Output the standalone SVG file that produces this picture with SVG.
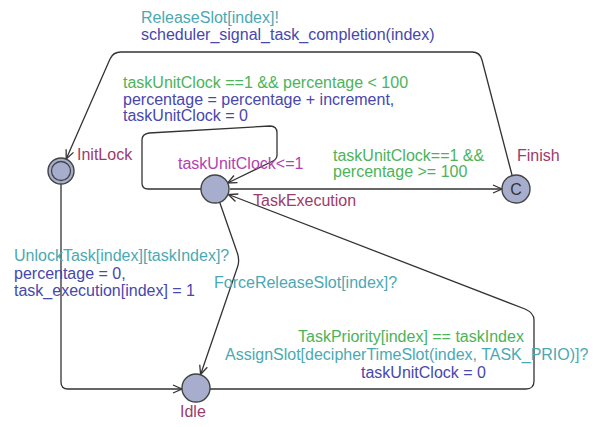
<svg xmlns="http://www.w3.org/2000/svg" width="598" height="427" viewBox="0 0 598 427">
<style>
text{font-family:"Liberation Sans",Arial,sans-serif;font-size:16px}
.sync{fill:#4aa9b3}
.asg{fill:#4747ad}
.grd{fill:#4cb35a}
.loc{fill:#9c3b6b}
.inv{fill:#b043b0}
.node{fill:#a7aecd;stroke:#444;stroke-width:1.4}
.edge{fill:none;stroke:#333;stroke-width:1.3;marker-end:url(#arr)}
</style>
<defs>
<marker id="arr" markerUnits="userSpaceOnUse" markerWidth="12" markerHeight="12" refX="10" refY="5" orient="auto" overflow="visible">
<path d="M1,1 L10,5 L1,9" fill="none" stroke="#333" stroke-width="1.3"/>
</marker>
</defs>
<rect width="598" height="427" fill="#fff"/>
<g id="connectors">
<path class="edge" d="M512,175 L482,60 Q480,52 472,52 L121,52 Q113,52 110,59 L66.2,159"/>
<path class="edge" d="M201,189 L148,189 Q142,189 142,183 L142,140 Q142,134 149,133 L270,126 Q277,126 277,133 L277,155 Q277,159 273,161 L227.6,183"/>
<path class="edge" d="M230,189 L502,189"/>
<path class="edge" d="M61,184 L61,382 Q61,389 68,389 L182,389"/>
<path class="edge" d="M219.6,202 L237,252 Q240,260 237.5,267 L200.6,374.5"/>
<path class="edge" d="M210,389 L526,389 Q534,389 534,381 L534,320 Q534,313 525,309 L228.5,194.5"/>
</g>
<g id="labels">
<text class="sync" x="141" y="23">ReleaseSlot[index]!</text>
<text class="asg" x="141" y="40">scheduler_signal_task_completion(index)</text>
<text class="grd" x="123" y="88">taskUnitClock ==1 &amp;&amp; percentage &lt; 100</text>
<text class="asg" x="123" y="105">percentage = percentage + increment,</text>
<text class="asg" x="123" y="121">taskUnitClock = 0</text>
<text class="grd" x="333" y="161">taskUnitClock==1 &amp;&amp;</text>
<text class="grd" x="333" y="177">percentage &gt;= 100</text>
<text class="sync" x="14" y="261">UnlockTask[index][taskIndex]?</text>
<text class="asg" x="14" y="279">percentage = 0,</text>
<text class="asg" x="14" y="296">task_execution[index] = 1</text>
<text class="sync" x="214" y="288">ForceReleaseSlot[index]?</text>
<text class="grd" x="298" y="342">TaskPriority[index] == taskIndex</text>
<text class="sync" x="225" y="360">AssignSlot[decipherTimeSlot(index, TASK_PRIO)]?</text>
<text class="asg" x="361" y="378">taskUnitClock = 0</text>
</g>
<g id="InitLock">
<circle class="node" cx="61" cy="171" r="13"/>
<circle cx="61" cy="171" r="9.5" fill="none" stroke="#444" stroke-width="1.3"/>
<text class="loc" x="77" y="160">InitLock</text>
</g>
<g id="TaskExecution">
<circle class="node" cx="215" cy="189" r="14"/>
<text class="inv" x="178" y="169">taskUnitClock&lt;=1</text>
<text class="loc" x="253" y="206">TaskExecution</text>
</g>
<g id="Finish">
<circle class="node" cx="516" cy="189" r="14"/>
<text x="516" y="195" text-anchor="middle" fill="#333">C</text>
<text class="loc" x="517" y="161">Finish</text>
</g>
<g id="Idle">
<circle class="node" cx="196" cy="388" r="14"/>
<text class="loc" x="180" y="417">Idle</text>
</g>
</svg>
